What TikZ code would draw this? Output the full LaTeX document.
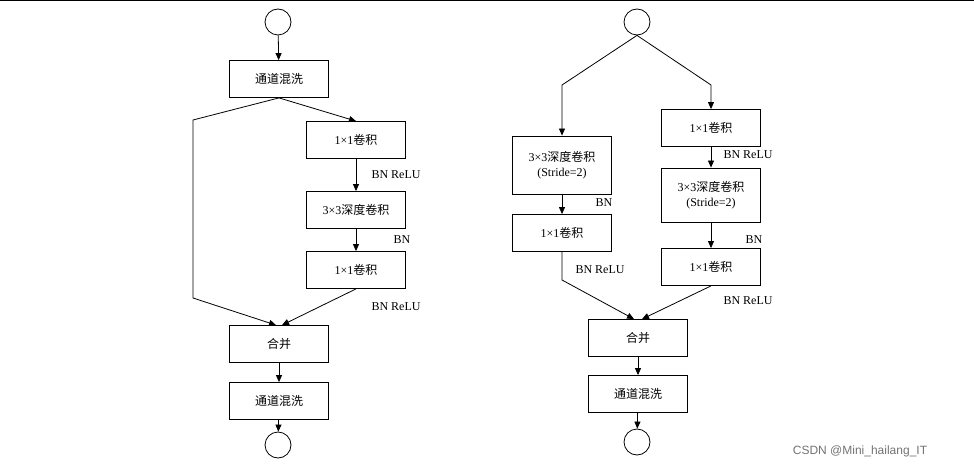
\documentclass[tikz,border=0pt]{standalone}
\usepackage{fontspec}
\setmainfont{Liberation Serif}
\newfontfamily\cjk{Noto Sans CJK SC}
\newfontfamily\wm{Liberation Sans}
\usetikzlibrary{arrows.meta}
\begin{document}
\begin{tikzpicture}[x=1pt,y=-1pt,
  bx/.style={draw,line width=0.8pt,minimum width=99pt,minimum height=37pt,inner sep=1pt,align=center,font=\fontsize{12}{15}\selectfont},
  tall/.style={bx,minimum height=58pt},
  cir/.style={draw,line width=0.8pt,circle,minimum size=26pt,inner sep=0pt},
  lab/.style={font=\fontsize{12}{14}\selectfont,anchor=west},
  ar/.style={-{Triangle[length=7pt,width=6pt]},line width=0.8pt},
  ln/.style={line width=0.8pt}]
\useasboundingbox (0,0) rectangle (974,470);
\draw[line width=1pt] (0,0.5) -- (974,0.5);
% left
\node[cir] (c1) at (278,22) {};
\node[bx] (s1) at (279,79) {\cjk 通道混洗};
\node[bx] (a1) at (356,140) {1×1\cjk 卷积};
\node[bx] (a2) at (356,210) {3×3\cjk 深度卷积};
\node[bx] (a3) at (356,270) {1×1\cjk 卷积};
\node[bx] (m1) at (279,344) {\cjk 合并};
\node[bx] (s2) at (279,401) {\cjk 通道混洗};
\node[cir] (c2) at (278,445) {};
\node[lab] (l1) at (368,175) {BN ReLU};
\node[lab] (l2) at (390,240) {BN};
\node[lab] (l3) at (368,307) {BN ReLU};
\coordinate (p1) at (193,120);
\coordinate (p2) at (193,298);
\draw[ar] (c1) -- (s1);
\draw[ar] (s1.south) -- (a1.north);
\draw[ar] (a1) -- (a2);
\draw[ar] (a2) -- (a3);
\draw[ar] (s1.south) -- (p1) -- (p2) -- ([xshift=-3pt]m1.north);
\draw[ar] (a3.south) -- ([xshift=3pt]m1.north);
\draw[ar] (m1) -- (s2);
\draw[ar] (s2) -- (c2);
% right
\node[cir] (c3) at (637,22) {};
\node[tall] (b1) at (562,165) {3×3\cjk 深度卷积\\(Stride=2)};
\node[bx] (b2) at (562,233) {1×1\cjk 卷积};
\node[bx] (d1) at (711,128) {1×1\cjk 卷积};
\node[tall,minimum height=54pt] (d2) at (711,195) {3×3\cjk 深度卷积\\(Stride=2)};
\node[bx] (d3) at (711,267) {1×1\cjk 卷积};
\node[bx] (m2) at (638,338) {\cjk 合并};
\node[bx] (s3) at (638,394) {\cjk 通道混洗};
\node[cir] (c4) at (637,442) {};
\node[lab] (r1) at (592,203) {BN};
\node[lab] (r2) at (572,270) {BN ReLU};
\node[lab] (r3) at (720,155) {BN ReLU};
\node[lab] (r4) at (742,240) {BN};
\node[lab] (r5) at (720,301) {BN ReLU};
\coordinate (q1) at (562,85);
\coordinate (q2) at (711,85);
\coordinate (q3) at (562,280);
\draw[ar] (c3.south) -- (q1) -- (b1.north);
\draw[ar] (c3.south) -- (q2) -- (d1.north);
\draw[ar] (b1) -- (b2);
\draw[ar] (d1) -- (d2);
\draw[ar] (d2) -- (d3);
\draw[ar] (b2.south) -- (q3) -- ([xshift=-4pt]m2.north);
\draw[ar] (d3.south) -- ([xshift=4pt]m2.north);
\draw[ar] (m2) -- (s3);
\draw[ar] (s3) -- (c4);
\node[font=\wm\fontsize{12}{14}\selectfont,text=black!55] (w) at (860,451) {CSDN @Mini\_hailang\_IT};
\end{tikzpicture}
\end{document}
